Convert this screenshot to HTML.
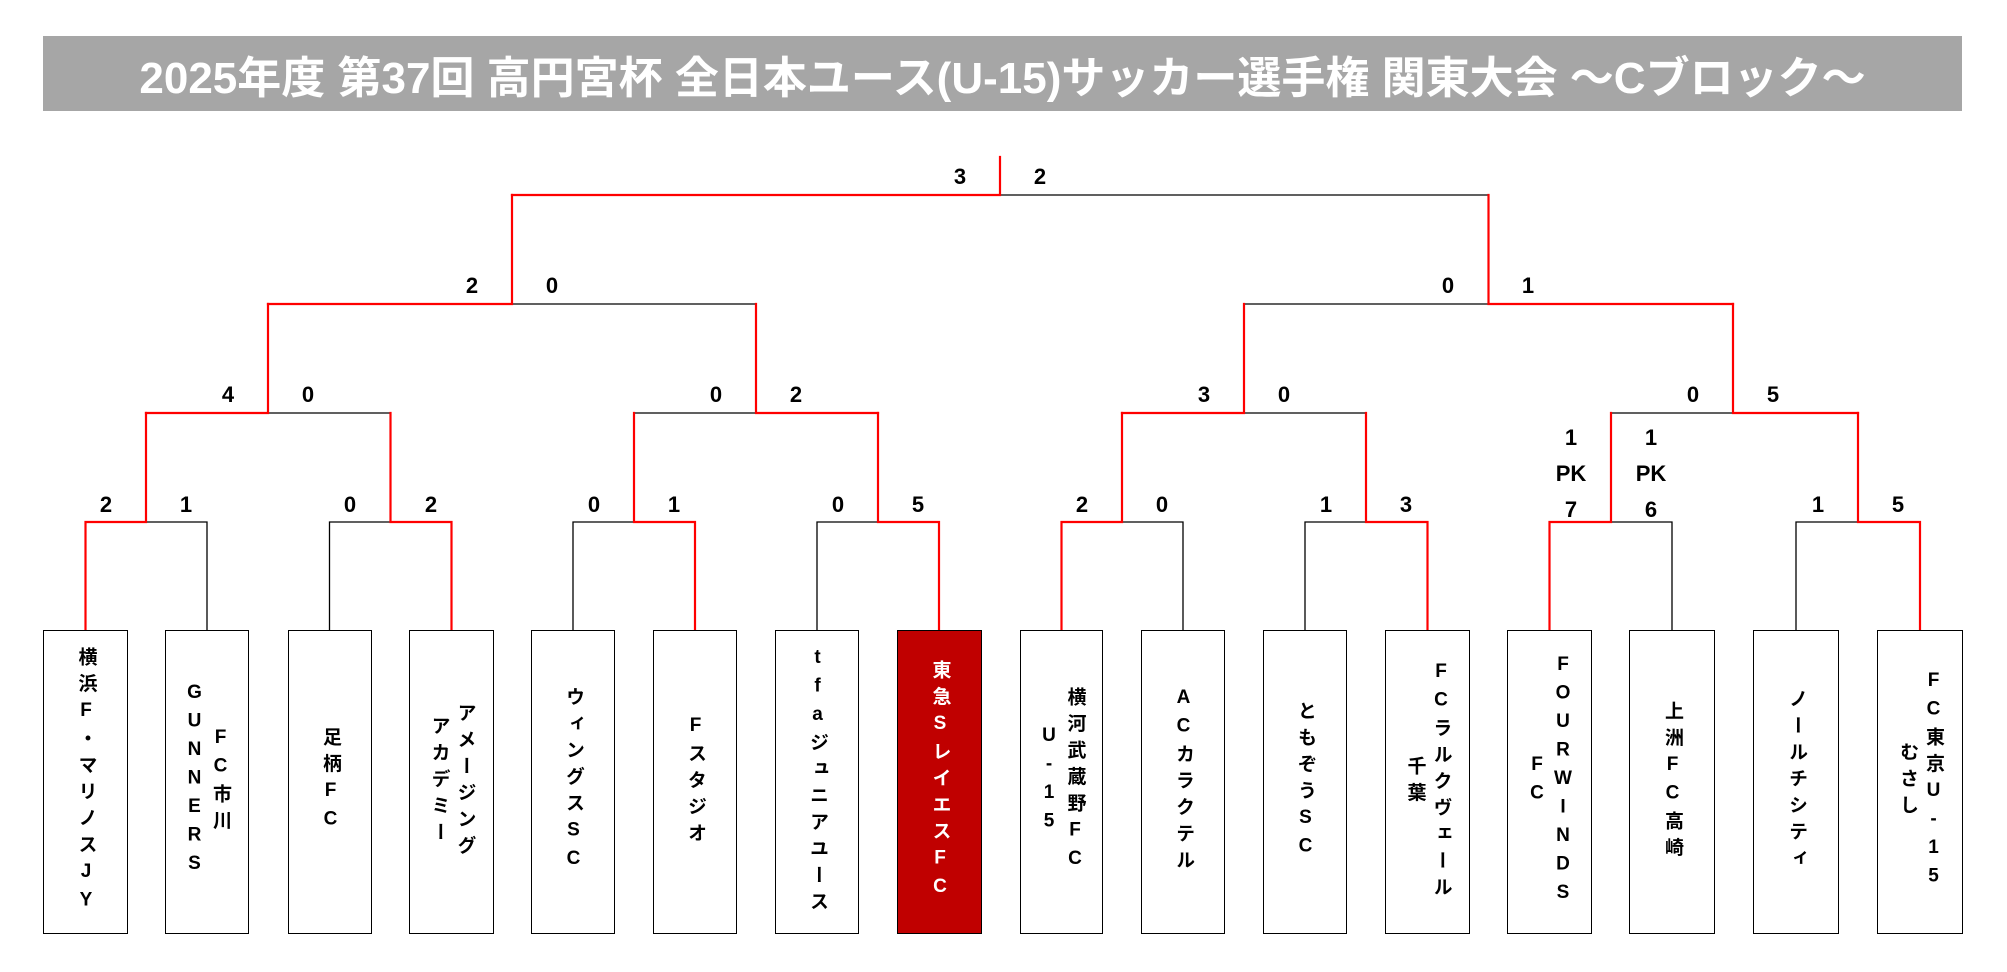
<!DOCTYPE html>
<html><head><meta charset="utf-8"><style>
body{margin:0;width:2007px;height:972px;background:#fff;position:relative;overflow:hidden;font-family:"Liberation Sans","Noto Sans CJK JP",sans-serif}
.title{position:absolute;left:43px;top:36px;width:1919px;height:75px;background:#a6a6a6;color:#fff;font:bold 44px "Liberation Sans","Noto Sans CJK JP",sans-serif;display:flex;align-items:center;justify-content:center;letter-spacing:0px;white-space:nowrap}
.s{position:absolute;width:40px;margin-left:-20px;text-align:center;font:bold 22px "Liberation Sans","Noto Sans CJK JP",sans-serif;line-height:26px;color:#000}
.b{position:absolute;top:630px;height:304px;border:1.5px solid #000;box-sizing:border-box;display:flex;align-items:center;justify-content:center;background:#fff}
.b span{writing-mode:vertical-rl;text-orientation:upright;font:bold 19px "Liberation Sans","Noto Sans CJK JP",sans-serif;letter-spacing:7.5px;line-height:26px;text-align:center;white-space:nowrap}
.w{background:#c00000;color:#fff}
</style></head><body>
<div class="title">2025年度 第37回 高円宮杯 全日本ユース(U-15)サッカー選手権 関東大会 ～Cブロック～</div>
<svg width="2007" height="972" style="position:absolute;left:0;top:0">
<g fill="none" stroke-linecap="square">
<g stroke="#000" stroke-width="1.3">
<path d="M207 630V522H146"/><path d="M329.5 630V522H390.5"/><path d="M573 630V522H634"/><path d="M817 630V522H878"/>
<path d="M1183 630V522H1122"/><path d="M1305 630V522H1366"/><path d="M1672 630V522H1611"/><path d="M1796 630V522H1858"/>
<path d="M390.5 413H268"/><path d="M634 413H756"/><path d="M1366 413H1244"/><path d="M1611 413H1733"/>
<path d="M756 304H512"/><path d="M1244 304H1488.5"/>
<path d="M1000 195H1488.5"/>
</g>
<g stroke="#f00" stroke-width="2.2">
<path d="M85.5 630V522H146V413"/><path d="M451.5 630V522H390.5V413"/><path d="M695 630V522H634V413"/><path d="M939 630V522H878V413"/>
<path d="M1061.5 630V522H1122V413"/><path d="M1427.5 630V522H1366V413"/><path d="M1549.5 630V522H1611V413"/><path d="M1920 630V522H1858V413"/>
<path d="M146 413H268V304"/><path d="M878 413H756V304"/><path d="M1122 413H1244V304"/><path d="M1858 413H1733V304"/>
<path d="M268 304H512V195"/><path d="M1733 304H1488.5V195"/>
<path d="M512 195H1000V157"/>
</g>
</g>
</svg>
<div class="s" style="left:106px;top:492px">2</div><div class="s" style="left:186px;top:492px">1</div>
<div class="s" style="left:350px;top:492px">0</div><div class="s" style="left:431px;top:492px">2</div>
<div class="s" style="left:594px;top:492px">0</div><div class="s" style="left:674px;top:492px">1</div>
<div class="s" style="left:838px;top:492px">0</div><div class="s" style="left:918px;top:492px">5</div>
<div class="s" style="left:1082px;top:492px">2</div><div class="s" style="left:1162px;top:492px">0</div>
<div class="s" style="left:1326px;top:492px">1</div><div class="s" style="left:1406px;top:492px">3</div>
<div class="s" style="left:1571px;top:420px;line-height:36px">1<br>PK<br>7</div><div class="s" style="left:1651px;top:420px;line-height:36px">1<br>PK<br>6</div>
<div class="s" style="left:1818px;top:492px">1</div><div class="s" style="left:1898px;top:492px">5</div>
<div class="s" style="left:228px;top:382px">4</div><div class="s" style="left:308px;top:382px">0</div>
<div class="s" style="left:716px;top:382px">0</div><div class="s" style="left:796px;top:382px">2</div>
<div class="s" style="left:1204px;top:382px">3</div><div class="s" style="left:1284px;top:382px">0</div>
<div class="s" style="left:1693px;top:382px">0</div><div class="s" style="left:1773px;top:382px">5</div>
<div class="s" style="left:472px;top:273px">2</div><div class="s" style="left:552px;top:273px">0</div>
<div class="s" style="left:1448px;top:273px">0</div><div class="s" style="left:1528px;top:273px">1</div>
<div class="s" style="left:960px;top:164px">3</div><div class="s" style="left:1040px;top:164px">2</div>
<div class="b" style="left:43px;width:85px"><span>横浜F・マリノスJY</span></div>
<div class="b" style="left:165px;width:84px"><span>FC市川<br>GUNNERS</span></div>
<div class="b" style="left:288px;width:84px"><span>足柄FC</span></div>
<div class="b" style="left:409px;width:85px"><span>アメージング<br>アカデミー</span></div>
<div class="b" style="left:531px;width:84px"><span>ウィングスSC</span></div>
<div class="b" style="left:653px;width:84px"><span>Fスタジオ</span></div>
<div class="b" style="left:775px;width:84px"><span>tfaジュニアユース</span></div>
<div class="b w" style="left:897px;width:85px"><span>東急SレイエスFC</span></div>
<div class="b" style="left:1020px;width:83px"><span>横河武蔵野FC<br>U-15</span></div>
<div class="b" style="left:1141px;width:84px"><span>ACカラクテル</span></div>
<div class="b" style="left:1263px;width:84px"><span>ともぞうSC</span></div>
<div class="b" style="left:1385px;width:85px"><span>FCラルクヴェール<br>千葉</span></div>
<div class="b" style="left:1507px;width:85px"><span>FOURWINDS<br>FC</span></div>
<div class="b" style="left:1629px;width:86px"><span>上洲FC高崎</span></div>
<div class="b" style="left:1753px;width:86px"><span>ノールチシティ</span></div>
<div class="b" style="left:1877px;width:86px"><span>FC東京U-15<br>むさし</span></div>
</body></html>
